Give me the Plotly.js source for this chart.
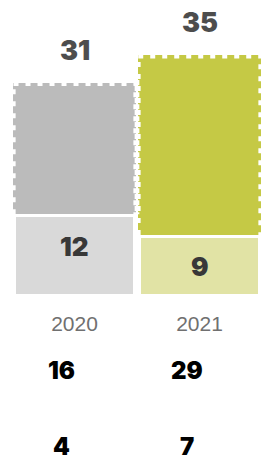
<!DOCTYPE html>
<html>
<head>
<meta charset="utf-8">
<script src="https://cdn.plot.ly/plotly-3.0.1.min.js"></script>
<style>html,body{margin:0;padding:0;background:#fff;}#chart{width:262px;height:474px;}</style>
</head>
<body>
<div id="chart"></div>
<script>
const years = ['2020', '2021'];
const totals = [31, 35];
const baseValues = [12, 9];
const rowA = [16, 29];
const rowB = [4, 7];
const topColors = ['#bbbbbb', '#c5c945'];
const baseColors = ['#d9d9d9', '#e1e3a5'];

const topValues = totals.map((t, i) => t - baseValues[i]);
const xs = years.map((y, i) => i);
const bargap = 0.01;
const halfW = (1 - bargap) / 2;

const heavy = {family: 'Inter, "Noto Sans", sans-serif', weight: 900};

const traces = [
  {
    type: 'bar', x: xs, y: baseValues,
    marker: {color: baseColors, line: {color: '#ffffff', width: 6}},
    hoverinfo: 'skip'
  },
  {
    type: 'bar', x: xs, y: topValues,
    marker: {color: topColors, line: {width: 0}},
    hoverinfo: 'skip'
  }
];

// dashed outline on three sides of each upper segment
const shapes = xs.map((x, i) => {
  const a = x - halfW, b = x + halfW, y0 = baseValues[i], y1 = totals[i];
  return {
    type: 'path', xref: 'x', yref: 'y',
    path: `M ${a},${y0} L ${a},${y1} L ${b},${y1} L ${b},${y0}`,
    line: {color: '#ffffff', width: 6, dash: '5px,7px'},
    layer: 'above'
  };
});

const annotations = [];
xs.forEach((x, i) => {
  annotations.push({
    x: x, y: totals[i], xref: 'x', yref: 'y', text: String(totals[i]),
    showarrow: false, yanchor: 'bottom', yshift: 14,
    font: Object.assign({size: 27, color: '#4d4d4d'}, heavy)
  });
  annotations.push({
    x: x, y: baseValues[i], xref: 'x', yref: 'y', text: String(baseValues[i]),
    showarrow: false, yanchor: 'middle', yshift: -32,
    font: Object.assign({size: 26, color: '#383838'}, heavy)
  });
  annotations.push({
    x: x, y: -0.249, xref: 'x', yref: 'paper', text: String(rowA[i]),
    showarrow: false, yanchor: 'middle', xshift: -13,
    font: Object.assign({size: 24, color: '#000000'}, heavy)
  });
  annotations.push({
    x: x, y: -0.505, xref: 'x', yref: 'paper', text: String(rowB[i]),
    showarrow: false, yanchor: 'middle', xshift: -13,
    font: Object.assign({size: 24, color: '#000000'}, heavy)
  });
});

const layout = {
  width: 262, height: 474,
  margin: {l: 12, r: 0, t: 0, b: 177, pad: 0},
  barmode: 'stack', bargap: bargap,
  showlegend: false,
  paper_bgcolor: '#ffffff', plot_bgcolor: '#ffffff',
  xaxis: {
    range: [-0.5, 1.5], tickmode: 'array', tickvals: xs, ticktext: years,
    showgrid: false, zeroline: false, showline: false, ticks: '',
    ticklabelstandoff: 12,
    tickfont: {family: '"Liberation Sans", Arial, sans-serif', size: 21, color: '#707070'}
  },
  yaxis: {range: [0, 43.04], visible: false, showgrid: false, zeroline: false},
  shapes: shapes,
  annotations: annotations
};

Plotly.newPlot('chart', traces, layout, {displayModeBar: false, staticPlot: true});
</script>
</body>
</html>
